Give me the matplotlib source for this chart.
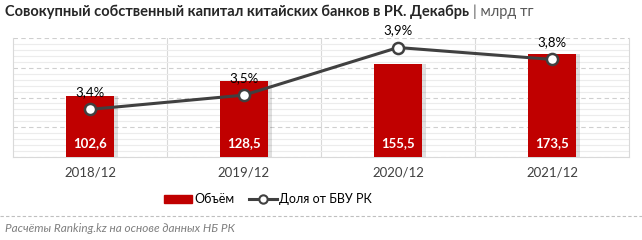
import numpy as np
import matplotlib.pyplot as plt
from matplotlib.lines import Line2D
from matplotlib.patches import Patch

# Data
categories = ['2018/12', '2019/12', '2020/12', '2021/12']
volume = [102.6, 128.5, 155.5, 173.5]          # млрд тг
share = [3.40, 3.52, 3.92, 3.82]               # % от БВУ РК
share_labels = ['3,4%', '3,5%', '3,9%', '3,8%']

bar_color = '#C00000'
line_color = '#404040'
grid_color = '#d9d9d9'

plt.rcParams['font.family'] = ['Lato', 'DejaVu Sans']

fig = plt.figure(figsize=(6.42, 2.40), dpi=100)
ax = fig.add_axes([13 / 642, 1 - 157 / 240, 616 / 642, 119 / 240])
x = np.arange(len(categories))

# Bars with a soft shadow
ax.bar(x + 0.025, volume, width=0.31, color='#000000', alpha=0.12, zorder=2)
ax.bar(x, volume, width=0.31, color=bar_color, zorder=3)
for xi, v in zip(x, volume):
    ax.text(xi, 23, f'{v:.1f}'.replace('.', ','), ha='center', va='center',
            color='white', fontsize=9.5, fontweight='bold', zorder=6)

# Share line on secondary axis
ax2 = ax.twinx()
ax2.set_ylim(3.0, 4.0)
ax2.axis('off')
ax2.plot(x, share, color=line_color, lw=2.2, marker='o', ms=8,
         mfc='white', mec=line_color, mew=1.8, zorder=5)
for xi, s, lab in zip(x, share, share_labels):
    ax2.annotate(lab, (xi, s), xytext=(0, 8), textcoords='offset points',
                 ha='center', va='bottom', fontsize=9.5, color='#000000',
                 annotation_clip=False)

# Grid: minor solid, major dashed, vertical category separators
ax.set_ylim(0, 200)
ax.set_xlim(-0.5, 3.5)
ax.set_yticks(np.arange(0, 201, 50))
ax.set_yticks(np.arange(0, 201, 10), minor=True)
ax.grid(axis='y', which='minor', color='#ececec', lw=0.8)
ax.grid(axis='y', which='major', color='#cfcfcf', lw=0.8, ls=(0, (4, 3)))
for b in [0.5, 1.5, 2.5]:
    ax.axvline(b, color=grid_color, lw=0.8, zorder=0.5)
ax.set_axisbelow(True)
ax.tick_params(axis='y', which='both', left=False, right=False,
               labelleft=False, labelright=False)
ax.tick_params(axis='x', length=0, pad=7, labelsize=9.5, labelcolor='#404040')
ax.set_xticks(x)
ax.set_xticklabels(categories)
for s in ['left', 'bottom', 'right']:
    ax.spines[s].set_color(grid_color)
ax.spines['top'].set_visible(False)

# Title: bold part, then grey unit right after it
t1 = fig.text(5 / 642, 1 - 12 / 240,
              'Совокупный собственный капитал китайских банков в РК. Декабрь',
              fontsize=10.5, fontweight='bold', color='#262626', va='center')
fig.canvas.draw()
bb = t1.get_window_extent()
fig.text((bb.x1 + 4) / 642, 1 - 12 / 240, '| млрд тг', fontsize=10.5,
         color='#595959', va='center')

# Legend
handles = [Patch(color=bar_color, label='Объём'),
           Line2D([0], [0], color=line_color, lw=2.2, marker='o', ms=6,
                  mfc='white', mec=line_color, mew=1.5, label='Доля от БВУ РК')]
fig.legend(handles=handles, loc='center', bbox_to_anchor=(268 / 642, 1 - 199 / 240),
           ncol=2, frameon=False, fontsize=9, handlelength=2.2,
           handleheight=0.6, columnspacing=1.2, handletextpad=0.2)

# Separator and source
fig.add_artist(Line2D([0, 1], [1 - 216 / 240] * 2, color='#bfbfbf', lw=0.8,
                      ls=(0, (3, 2)), transform=fig.transFigure))
fig.text(5 / 642, 1 - 228 / 240, 'Расчёты Ranking.kz на основе данных НБ РК',
         fontsize=8.5, style='italic', color='#7f7f7f', va='center')

fig.savefig('out.png', dpi=100)
